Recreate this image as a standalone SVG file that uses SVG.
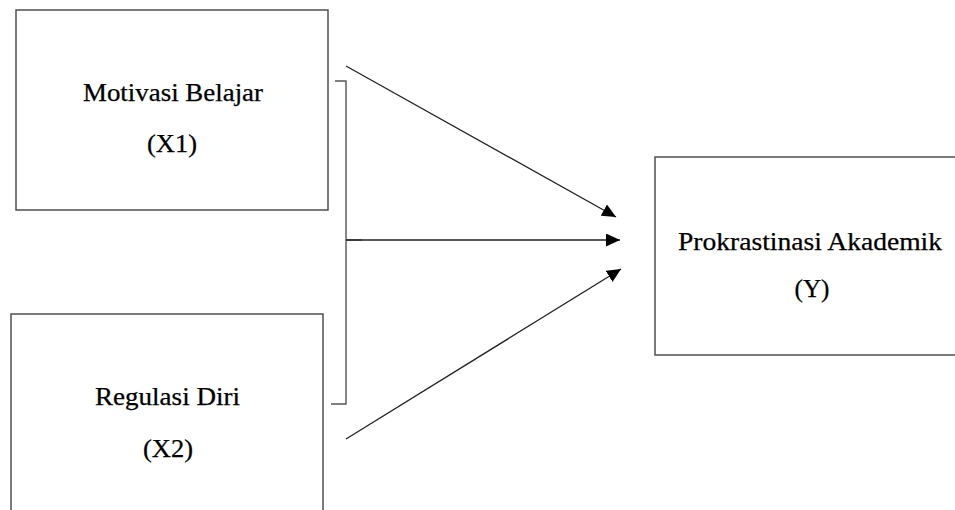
<svg xmlns="http://www.w3.org/2000/svg" width="955" height="510" viewBox="0 0 955 510">
<style>
.box{fill:#fff;stroke:#444;stroke-width:1.4}
.t{font-family:"Liberation Serif","Times New Roman",serif;font-size:24.5px;fill:#000;stroke:#000;stroke-width:0.25;text-anchor:middle}
.ln{stroke:#222;stroke-width:1.3;fill:none}
.br{stroke:#555;stroke-width:1.4;fill:none}
</style>
<defs>
<marker id="ah" viewBox="0 0 14 13" refX="14" refY="6.5" markerWidth="14" markerHeight="13" markerUnits="userSpaceOnUse" orient="auto">
<path d="M0,0 L14,6.5 L0,13 Z" fill="#000"/>
</marker>
</defs>
<rect width="955" height="510" fill="#fff"/>
<g id="x1">
<rect class="box" x="16" y="10" width="312" height="200"/>
<text class="t" x="173" y="101" textLength="180" lengthAdjust="spacingAndGlyphs">Motivasi Belajar</text>
<text class="t" x="172" y="152" textLength="50" lengthAdjust="spacingAndGlyphs">(X1)</text>
</g>
<g id="x2">
<rect class="box" x="11" y="314" width="312" height="220"/>
<text class="t" x="167.5" y="405" textLength="145" lengthAdjust="spacingAndGlyphs">Regulasi Diri</text>
<text class="t" x="168" y="457" textLength="50" lengthAdjust="spacingAndGlyphs">(X2)</text>
</g>
<g id="y">
<rect class="box" x="655" y="157" width="320" height="198"/>
<text class="t" x="810" y="250" textLength="264" lengthAdjust="spacingAndGlyphs">Prokrastinasi Akademik</text>
<text class="t" x="812" y="297" textLength="35" lengthAdjust="spacingAndGlyphs">(Y)</text>
</g>
<g id="connectors">
<path class="br" d="M335,81 H346 V404 H331"/>
<path class="br" d="M346,240 H362"/>
<line class="ln" x1="346" y1="66" x2="616" y2="217" marker-end="url(#ah)"/>
<line class="ln" x1="346" y1="240" x2="620" y2="240" marker-end="url(#ah)"/>
<line class="ln" x1="346" y1="439" x2="621" y2="269" marker-end="url(#ah)"/>
</g>
</svg>
